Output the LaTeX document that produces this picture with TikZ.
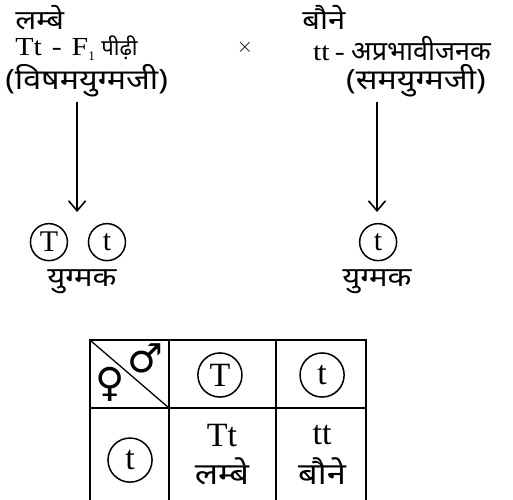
\documentclass[tikz,border=0pt]{standalone}
\usepackage{graphicx}
\usepackage{fontspec}
\setmainfont{Liberation Serif}
\newfontfamily\deva[Script=Devanagari]{Noto Sans}
\newfontfamily\symb{DejaVu Sans}
\usetikzlibrary{positioning,arrows.meta}

\newcommand{\hin}[1]{{\deva\fontsize{22}{26}\selectfont #1}}
\newcommand{\widen}[1]{\scalebox{1.15}[1]{#1}}
\newcommand{\lowone}{\raisebox{-5pt}{\fontsize{13}{13}\selectfont 1}}

\begin{document}
\begin{tikzpicture}[
  head/.style={inner sep=0pt, anchor=west, font=\fontsize{26}{30}\selectfont},
  hword/.style={inner sep=0pt, font=\deva\fontsize{27}{30}\selectfont},
  nword/.style={inner sep=0pt, font=\deva\fontsize{28}{32}\selectfont},
  gword/.style={inner sep=0pt, font=\deva\fontsize{27}{30}\selectfont},
  tword/.style={inner sep=0pt, font=\deva\fontsize{30}{34}\selectfont},
  cell/.style={inner sep=0pt, font=\fontsize{34}{38}\selectfont},
  gam/.style={circle, draw, line width=1.5pt, minimum size=1.3cm, inner sep=0pt, font=\fontsize{30}{34}\selectfont},
  big/.style={gam, minimum size=1.55cm, font=\fontsize{34}{38}\selectfont},
  sex/.style={inner sep=0pt, font=\symb\fontsize{40}{44}\selectfont},
  arr/.style={line width=1.6pt, -{Straight Barb[length=3.5mm, width=6mm, line width=1.6pt]}},
  grid/.style={line width=2.2pt}
]
  \useasboundingbox (0,0) rectangle (18.03,-17.57);

  % Parents
  \node[hword, anchor=west] (tall) at (0.53,-0.62) {\widen{लम्बे}};
  \node[head] (hetero) at (0.53,-1.70) {\widen{Tt\,\,-\,\,F}\lowone\ \hin{पीढ़ी}};
  \node[nword, anchor=west] (hetnote) at (0.18,-2.83) {\widen{(विषमयुग्मजी)}};
  \node[inner sep=0pt, font=\fontsize{20}{24}\selectfont] (cross) at (8.61,-1.65) {$\times$};
  \node[hword, anchor=west] (dwarf) at (10.62,-0.62) {\widen{बौने}};
  \node[head] (homo) at (11.0,-1.70) {\widen{tt\,-} {\deva\fontsize{27}{30}\selectfont अप्रभावीजनक}};
  \node[nword] (homnote) at (14.62,-2.83) {\widen{(समयुग्मजी)}};

  % Arrows
  \coordinate (la1) at (2.71,-3.59);
  \coordinate (la2) at (2.71,-7.45);
  \coordinate (ra1) at (13.25,-3.59);
  \coordinate (ra2) at (13.25,-7.45);
  \draw[arr] (la1) -- (la2);
  \draw[arr] (ra1) -- (ra2);

  % Gametes
  \node[gam] (gT) at (1.72,-8.51) {T};
  \node[gam] (gt) at (3.76,-8.51) {t};
  \node[gam] (gt2) at (13.29,-8.51) {t};
  \node[gword] (gl) at (2.88,-9.91) {\widen{युग्मक}};
  \node[gword] (gr) at (13.25,-9.91) {\widen{युग्मक}};

  % Checker board
  \draw[grid] (3.16,-17.9) -- (3.16,-11.95) -- (12.86,-11.95) -- (12.86,-17.9);
  \draw[grid] (5.94,-11.95) -- (5.94,-17.9);
  \draw[grid] (9.70,-11.95) -- (9.70,-17.9);
  \draw[grid] (3.16,-14.34) -- (12.86,-14.34);
  \draw[line width=1.3pt] (3.16,-11.95) -- (5.94,-14.34);
  \node[sex] (fem) at (3.87,-13.50) {♀};
  \node[sex] (mal) at (5.12,-12.58) {♂};

  \node[big] (mT) at (7.73,-13.18) {T};
  \node[big] (mt) at (11.32,-13.18) {t};
  \node[big] (ft) at (4.57,-16.17) {t};

  \node[cell] (Tt) at (7.80,-15.29) {Tt};
  \node[tword] (Tttall) at (7.80,-16.56) {\widen{लम्बे}};
  \node[cell] (tt) at (11.32,-15.29) {tt};
  \node[tword] (ttdwarf) at (11.32,-16.56) {\widen{बौने}};
\end{tikzpicture}
\end{document}
